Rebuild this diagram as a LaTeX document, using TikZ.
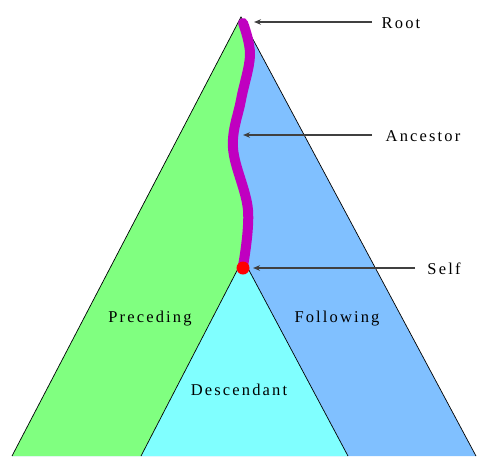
\documentclass[tikz,border=0pt]{standalone}
\usepackage{fontspec}
\setmainfont{Liberation Serif}[LetterSpace=13]
\usetikzlibrary{arrows.meta}
\definecolor{precgreen}{HTML}{80FF80}
\definecolor{follblue}{HTML}{80C0FF}
\definecolor{desccyan}{HTML}{80FFFF}
\definecolor{ancpurple}{HTML}{C000C0}
\definecolor{arrowgray}{HTML}{404040}
\tikzset{
  lbl/.style={font=\fontsize{16.5}{19}\selectfont, inner sep=0pt, text=black},
  pointer/.style={draw=arrowgray, line width=1.4pt, -{Stealth[length=7pt,width=5.5pt]}},
  edge/.style={draw=black, line width=0.7pt}
}
\begin{document}
\begin{tikzpicture}[x=1pt,y=-1pt]
\useasboundingbox (0,0) rectangle (479,456);
% coordinates
\coordinate (apex) at (241,17);
\coordinate (bl) at (12,456);
\coordinate (br) at (476,456);
\coordinate (dapex) at (243,259);
\coordinate (dl) at (141,456);
\coordinate (dr) at (348,456);
\coordinate (selfpt) at (243,268);
% blue whole triangle
\fill[follblue] (apex) -- (bl) -- (br) -- cycle;
% green region
\fill[precgreen] plot[smooth,tension=0.6] coordinates {(241,17) (250,55) (241,100) (233,148) (248,210) (243,268)}
  -- (dapex) -- (dl) -- (bl) -- cycle;
% descendant
\fill[desccyan] (dapex) -- (dl) -- (dr) -- cycle;
\draw[edge] (dl) -- (dapex) -- (dr);
\draw[edge] (bl) -- (apex) -- (br);
% ancestor path
\draw[ancpurple, line width=10pt, line cap=round] plot[smooth,tension=0.6] coordinates {(243,23) (250,55) (241,100) (233,148) (248,210) (243,266)};
\fill[red] (selfpt) circle (6.5pt);
% labels
\node[lbl] (root) at (401,23) {Root};
\node[lbl] (anc) at (423,136) {Ancestor};
\node[lbl] (self) at (444,269) {Self};
\node[lbl] (prec) at (150,319) {Preceding};
\node[lbl] (foll) at (337,319) {Following};
\node[lbl] (desc) at (239,390) {Descendant};
% pointer targets
\coordinate (roottip) at (254,22);
\coordinate (anctip) at (243,135);
\coordinate (selftip) at (253,268);
\draw[pointer] (372,22) -- (roottip);
\draw[pointer] (372,135) -- (anctip);
\draw[pointer] (415,268) -- (selftip);
\end{tikzpicture}
\end{document}
